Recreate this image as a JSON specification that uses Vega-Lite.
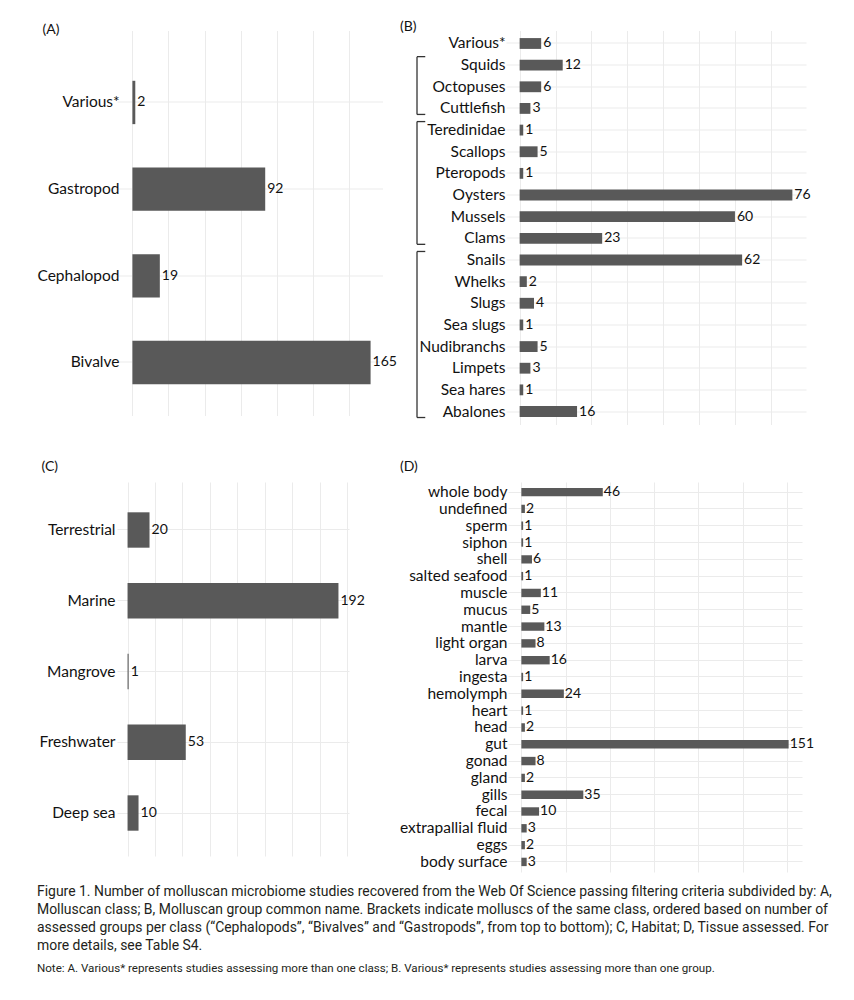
{
  "$schema": "https://vega.github.io/schema/vega-lite/v6.json",
  "background": "white",
  "padding": {"left": 36, "top": 19.5, "right": 5, "bottom": 5},
  "datasets": {
    "classA": [
      {"cat": "Various*", "n": 2},
      {"cat": "Gastropod", "n": 92},
      {"cat": "Cephalopod", "n": 19},
      {"cat": "Bivalve", "n": 165}
    ],
    "groupB": [
      {"cat": "Various*", "n": 6},
      {"cat": "Squids", "n": 12},
      {"cat": "Octopuses", "n": 6},
      {"cat": "Cuttlefish", "n": 3},
      {"cat": "Teredinidae", "n": 1},
      {"cat": "Scallops", "n": 5},
      {"cat": "Pteropods", "n": 1},
      {"cat": "Oysters", "n": 76},
      {"cat": "Mussels", "n": 60},
      {"cat": "Clams", "n": 23},
      {"cat": "Snails", "n": 62},
      {"cat": "Whelks", "n": 2},
      {"cat": "Slugs", "n": 4},
      {"cat": "Sea slugs", "n": 1},
      {"cat": "Nudibranchs", "n": 5},
      {"cat": "Limpets", "n": 3},
      {"cat": "Sea hares", "n": 1},
      {"cat": "Abalones", "n": 16}
    ],
    "brackets": [
      {"cls": "Cephalopods", "first": "Squids", "last": "Cuttlefish"},
      {"cls": "Bivalves", "first": "Teredinidae", "last": "Clams"},
      {"cls": "Gastropods", "first": "Snails", "last": "Abalones"}
    ],
    "habitatC": [
      {"cat": "Terrestrial", "n": 20},
      {"cat": "Marine", "n": 192},
      {"cat": "Mangrove", "n": 1},
      {"cat": "Freshwater", "n": 53},
      {"cat": "Deep sea", "n": 10}
    ],
    "tissueD": [
      {"cat": "whole body", "n": 46},
      {"cat": "undefined", "n": 2},
      {"cat": "sperm", "n": 1},
      {"cat": "siphon", "n": 1},
      {"cat": "shell", "n": 6},
      {"cat": "salted seafood", "n": 1},
      {"cat": "muscle", "n": 11},
      {"cat": "mucus", "n": 5},
      {"cat": "mantle", "n": 13},
      {"cat": "light organ", "n": 8},
      {"cat": "larva", "n": 16},
      {"cat": "ingesta", "n": 1},
      {"cat": "hemolymph", "n": 24},
      {"cat": "heart", "n": 1},
      {"cat": "head", "n": 2},
      {"cat": "gut", "n": 151},
      {"cat": "gonad", "n": 8},
      {"cat": "gland", "n": 2},
      {"cat": "gills", "n": 35},
      {"cat": "fecal", "n": 10},
      {"cat": "extrapallial fluid", "n": 3},
      {"cat": "eggs", "n": 2},
      {"cat": "body surface", "n": 3}
    ]
  },
  "title": {
    "text": [
      "Figure 1. Number of molluscan microbiome studies recovered from the Web Of Science passing filtering criteria subdivided by: A,",
      "Molluscan class; B, Molluscan group common name. Brackets indicate molluscs of the same class, ordered based on number of",
      "assessed groups per class (“Cephalopods”, “Bivalves” and “Gastropods”, from top to bottom); C, Habitat; D, Tissue assessed. For",
      "more details, see Table S4."
    ],
    "subtitle": "Note: A. Various* represents studies assessing more than one class; B. Various* represents studies assessing more than one group.",
    "orient": "bottom",
    "anchor": "start",
    "frame": "bounds",
    "font": "Roboto",
    "fontSize": 13.95,
    "fontWeight": "normal",
    "color": "#231f20",
    "lineHeight": 18,
    "subtitleFont": "Roboto",
    "subtitleFontSize": 11.6,
    "subtitleColor": "#231f20",
    "subtitlePadding": 10,
    "offset": 13
  },
  "config": {
    "view": {"stroke": null},
    "font": "Lato",
    "axis": {
      "gridColor": "#ebebeb",
      "gridWidth": 1,
      "ticks": false,
      "domain": false,
      "labelFont": "Lato",
      "labelColor": "#111111",
      "labelFontSize": 15.5
    },
    "title": {"font": "Lato", "fontSize": 14, "fontWeight": "normal", "color": "#111111", "anchor": "start", "frame": "group"},
    "text": {"font": "Lato", "fontSize": 14, "color": "#111111"},
    "bar": {"color": "#595959"}
  },
  "spacing": 35.5,
  "vconcat": [
    {
      "spacing": 3,
      "hconcat": [
        {
          "width": 265.5,
          "height": 385,
          "title": {"text": "(A)", "dx": -74.5, "offset": -6},
          "data": {"name": "classA"},
          "encoding": {
            "y": {"field": "cat", "type": "nominal", "sort": null, "title": null,
              "scale": {"paddingInner": 0.5, "paddingOuter": 0.471, "align": 0.616},
              "axis": {"grid": true, "bandPosition": 0.5, "labelPadding": -2}},
            "x": {"field": "n", "type": "quantitative", "title": null,
              "scale": {"domain": [-10.67, 173.25], "nice": false, "zero": false},
              "axis": {"values": [0, 25, 50, 75, 100, 125, 150], "labels": false, "grid": true}}
          },
          "layer": [
            {"mark": {"type": "bar"}},
            {"mark": {"type": "text", "align": "left", "baseline": "middle", "dx": 2}, "encoding": {"text": {"field": "n", "type": "quantitative"}}}
          ]
        },
        {
          "width": 300,
          "height": 394,
          "title": {"text": "(B)", "dx": -106, "offset": -3},
          "layer": [
            {"data": {"name": "groupB"}, "mark": {"type": "bar"},
              "encoding": {
                "y": {"field": "cat", "type": "nominal", "sort": null, "title": null,
                  "scale": {"paddingInner": 0.5, "paddingOuter": 0.35,
                    "domain": ["Various*", "Squids", "Octopuses", "Cuttlefish", "Teredinidae", "Scallops", "Pteropods", "Oysters", "Mussels", "Clams", "Snails", "Whelks", "Slugs", "Sea slugs", "Nudibranchs", "Limpets", "Sea hares", "Abalones"]},
                  "axis": {"grid": true, "bandPosition": 0.5, "labelPadding": 1}},
                "x": {"field": "n", "type": "quantitative", "title": null,
                  "scale": {"domain": [-3.8, 79.8], "nice": false, "zero": false},
                  "axis": {"values": [0, 10, 20, 30, 40, 50, 60, 70], "labels": false, "grid": true}}
              }},
            {"data": {"name": "groupB"}, "mark": {"type": "text", "align": "left", "baseline": "middle", "dx": 2},
              "encoding": {"y": {"field": "cat", "type": "nominal", "sort": null}, "x": {"field": "n", "type": "quantitative"}, "text": {"field": "n", "type": "quantitative"}}},
            {"data": {"name": "brackets"}, "mark": {"type": "rule", "color": "#333333", "strokeWidth": 1.3, "yOffset": -8.5, "y2Offset": 6, "clip": false},
              "encoding": {"x": {"datum": -28.6, "type": "quantitative"}, "y": {"field": "first", "type": "nominal", "sort": null}, "y2": {"field": "last"}}},
            {"data": {"name": "brackets"}, "mark": {"type": "rule", "color": "#333333", "strokeWidth": 1.3, "yOffset": -8.5, "clip": false},
              "encoding": {"x": {"datum": -28.6, "type": "quantitative"}, "x2": {"datum": -26.3}, "y": {"field": "first", "type": "nominal", "sort": null}}},
            {"data": {"name": "brackets"}, "mark": {"type": "rule", "color": "#333333", "strokeWidth": 1.3, "yOffset": 6, "clip": false},
              "encoding": {"x": {"datum": -28.6, "type": "quantitative"}, "x2": {"datum": -26.3}, "y": {"field": "last", "type": "nominal", "sort": null}}}
          ]
        }
      ]
    },
    {
      "spacing": 34,
      "hconcat": [
        {
          "width": 232,
          "height": 374,
          "title": {"text": "(C)", "dx": -75.5, "offset": 8},
          "data": {"name": "habitatC"},
          "encoding": {
            "y": {"field": "cat", "type": "nominal", "sort": null, "title": null,
              "scale": {"paddingInner": 0.5, "paddingOuter": 0.393, "align": 0.545},
              "axis": {"grid": true, "bandPosition": 0.5, "labelPadding": 2}},
            "x": {"field": "n", "type": "quantitative", "title": null,
              "scale": {"domain": [-9.6, 201.6], "nice": false, "zero": false},
              "axis": {"values": [0, 25, 50, 75, 100, 125, 150, 175, 200], "labels": false, "grid": true}}
          },
          "layer": [
            {"mark": {"type": "bar"}},
            {"mark": {"type": "text", "align": "left", "baseline": "middle", "dx": 2}, "encoding": {"text": {"field": "n", "type": "quantitative"}}}
          ]
        },
        {
          "width": 294,
          "height": 390,
          "title": {"text": "(D)", "dx": -108, "offset": 8},
          "data": {"name": "tissueD"},
          "encoding": {
            "y": {"field": "cat", "type": "nominal", "sort": null, "title": null,
              "scale": {"paddingInner": 0.5, "paddingOuter": 0.35},
              "axis": {"grid": true, "bandPosition": 0.5, "labelPadding": 1}},
            "x": {"field": "n", "type": "quantitative", "title": null,
              "scale": {"domain": [-7.55, 158.55], "nice": false, "zero": false},
              "axis": {"values": [0, 25, 50, 75, 100, 125, 150], "labels": false, "grid": true}}
          },
          "layer": [
            {"mark": {"type": "bar"}},
            {"mark": {"type": "text", "align": "left", "baseline": "middle", "dx": 1}, "encoding": {"text": {"field": "n", "type": "quantitative"}}}
          ]
        }
      ]
    }
  ]
}
